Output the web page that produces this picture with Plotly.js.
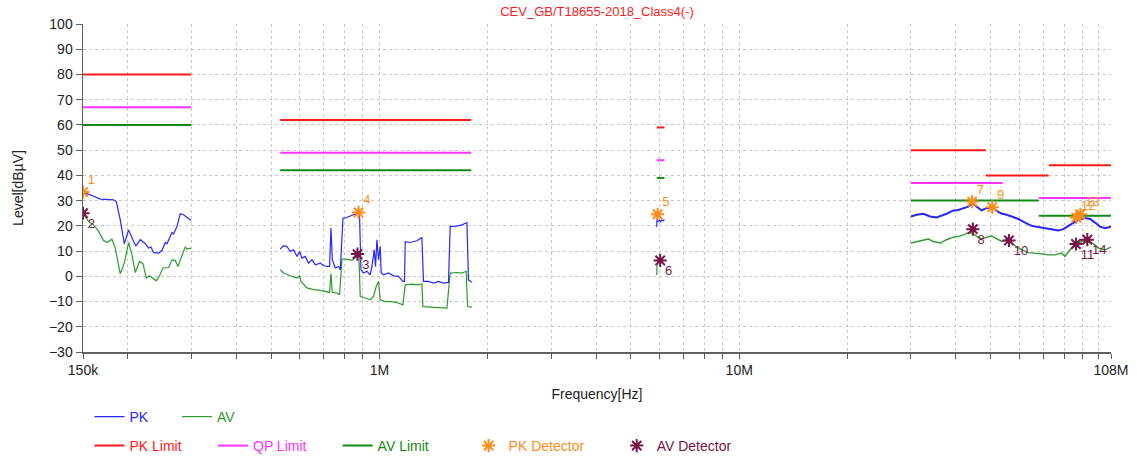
<!DOCTYPE html>
<html>
<head>
<meta charset="utf-8">
<script src="https://cdn.plot.ly/plotly-3.0.1.min.js"></script>
<style>
html,body{margin:0;padding:0;background:#fff;}
#chart{width:1137px;height:457px;}
</style>
</head>
<body>
<div id="chart"></div>
<script>
// ---- Data (frequency in MHz, level in dBµV) ----
const pkLwF = [0.15,0.1572,0.1676,0.1824,0.1856,0.1904,0.1954,0.2008,0.2073,0.2105,0.2164,0.2235,0.2282,0.2317,0.2357,0.2433,0.2486,0.254,0.2567,0.2651,0.2678,0.2737,0.2795,0.2855,0.2995];
const pkLwV = [33.2,32.3,30.6,30.3,29.6,22.4,12.9,18.4,13.8,12.1,14.5,12.9,11.2,11.6,9.4,9.2,10.2,13.4,12.9,17.4,16.8,19.7,24.8,24.4,22.1];
const avLwF = [0.15,0.1555,0.1605,0.1657,0.1711,0.1749,0.1805,0.1844,0.1904,0.1954,0.2008,0.2052,0.2096,0.2154,0.2202,0.2249,0.2297,0.2398,0.2448,0.2503,0.2594,0.2651,0.2708,0.2755,0.2796,0.2886,0.2918,0.2994];
const avLwV = [25.0,21.7,20.4,17.8,14.2,13.4,14.7,11.2,1.0,5.2,13.4,8.5,1.5,5.9,5.0,-0.7,0.2,-1.8,0.2,3.3,3.5,6.5,6.3,3.9,6.5,11.6,10.8,11.2];

const pkMwF = [0.530,0.5414,0.5534,0.5652,0.5772,0.5899,0.5998,0.6091,0.6220,0.6353,0.6492,0.6632,0.6848,0.6995,0.7149,0.7269,0.7334,0.7397,0.7539,0.7700,0.7784,0.7920,0.8035,0.8297,0.8567,0.8694,0.8806,0.8885,0.9034,0.9232,0.9428,0.9532,0.9674,0.9754,0.9841,0.9942,1.0051,1.0116,1.0266,1.0599,1.0944,1.1300,1.1623,1.1741,1.1795,1.2178,1.2710,1.3124,1.3258,1.3689,1.4134,1.4594,1.5068,1.5559,1.5728,1.6418,1.6953,1.7505,1.7686,1.8072];
const pkMwV = [10.8,12.1,11.8,9.8,10.5,7.9,9.8,7.2,7.9,5.2,6.6,4.6,5.2,4.3,3.9,3.9,19.1,6.6,3.3,3.9,2.6,23.1,23.1,23.8,24.4,25.0,23.8,2.6,1.3,2.0,0.6,3.9,10.5,3.9,14.5,6.6,11.8,1.3,0.6,1.3,0.2,0.0,-2.0,-2.0,13.7,13.4,14.1,15.4,-2.0,-2.0,-2.7,-2.0,-2.7,-2.4,19.7,19.9,20.4,21.3,-1.4,-2.4];
const avMwF = [0.530,0.5414,0.5652,0.5899,0.5998,0.6052,0.6289,0.6561,0.6848,0.7149,0.7269,0.7334,0.7397,0.7621,0.7748,0.7867,0.8124,0.8387,0.8619,0.8770,0.8845,0.9131,0.9428,0.9629,0.9797,0.9942,1.0051,1.0378,1.0832,1.1183,1.1623,1.1795,1.2310,1.2710,1.3124,1.3207,1.3841,1.4446,1.5403,1.5728,1.6418,1.6953,1.7426,1.7579,1.8072];
const avMwV = [2.6,1.3,0.2,-0.7,0.2,-2.0,-4.6,-5.3,-5.6,-6.0,-6.4,1.0,-6.4,-6.6,-7.3,6.8,6.8,6.3,7.6,7.9,-8.0,-8.6,-9.3,-8.0,-4.0,-2.0,-9.3,-10.0,-10.0,-10.4,-11.3,-3.4,-3.1,-3.4,-3.0,-12.0,-12.2,-12.4,-12.6,1.3,1.5,1.3,2.0,-12.0,-12.2];

const pkSwF = [5.90,5.91,5.95,6.00,6.05,6.10,6.15,6.20];
const pkSwV = [19.5,23.0,21.8,22.3,21.6,22.4,22.0,22.4];
const avSwF = [5.90,5.91,5.96,6.02];
const avSwV = [0.5,5.0,5.5,5.8];

const pkHbF = [30,31.15,32.5,33.9,35.4,36.6,37.7,39.4,40.7,42.0,43.3,44.5,45.7,47.2,48.7,50.5,52.2,53.7,54.8,57.2,59.7,62.3,65.0,67.8,70.8,73.9,77.1,79.6,82.2,84.8,87.6,91.4,94.4,97.5,100.6,103.9,108];
const pkHbV = [23.7,24.4,24.8,23.7,23.3,24.0,24.8,26.1,26.3,27.0,27.6,29.2,27.6,26.1,27.0,27.4,25.7,24.8,24.6,23.7,22.7,21.3,20.0,19.5,19.1,18.7,18.2,18.7,20.0,21.3,22.4,23.1,22.7,21.3,19.7,19.1,19.7];
const avHbF = [30,31.15,32.5,33.55,34.6,36.2,37.7,39.4,40.7,42.0,43.3,44.6,45.7,47.2,48.7,50.3,52.0,53.7,55.4,56.2,58.4,61.0,63.6,66.4,69.3,72.3,75.5,78.8,80.4,83.1,86.3,89.5,92.8,95.8,99.6,103.9,108];
const avHbV = [13.2,13.8,14.5,14.8,13.8,13.2,14.5,15.5,15.8,16.4,17.3,17.1,15.8,14.8,15.5,16.0,14.8,13.8,14.5,14.2,12.1,10.5,9.4,9.2,8.9,8.5,8.5,9.2,7.9,10.5,12.8,13.8,14.5,13.2,11.2,10.5,11.6];

// limit segments: [start MHz, stop MHz, level]
const pkLimit = [[0.15,0.3,80],[0.53,1.8,62],[5.9,6.2,59],[30,48.5,50],[48.5,72.5,40],[72.5,108,44]];
const qpLimit = [[0.15,0.3,67],[0.53,1.8,49],[5.9,6.2,46],[30,54,37],[68,108,31]];
const avLimit = [[0.15,0.3,60],[0.53,1.8,42],[5.9,6.2,39],[30,68,30],[68,108,24]];

const pkDetF = [0.15,0.875,5.93,44.4,50.5,86.5,88.8];
const pkDetV = [33.4,25.3,24.6,29.6,27.4,23.3,24.6];
const pkDetLbl = ['1','4','5','7','9','12','13'];
const avDetF = [0.15,0.869,6.03,44.6,56.2,86.3,92.8];
const avDetV = [25.0,8.8,6.3,18.7,14.2,12.8,14.5];
const avDetLbl = ['2','3','6','8','10','11','14'];

const xTickVals = [0.15,0.2,0.3,0.4,0.5,0.6,0.7,0.8,0.9,1,2,3,4,5,6,7,8,9,10,20,30,40,50,60,70,80,90,100,108];
const xTickText = ['150k','','','','','','','','','1M','','','','','','','','','10M','','','','','','','','','','108M'];

// ---- helpers ----
function joinSegs(fs, vs) {
  const x = [], y = [];
  fs.forEach((f, i) => { if (i) { x.push(null); y.push(null); } x.push(...f); y.push(...vs[i]); });
  return {x, y};
}
function limitXY(segs) {
  const x = [], y = [];
  segs.forEach((s, i) => { if (i) { x.push(null); y.push(null); } x.push(s[0], s[1]); y.push(s[2], s[2]); });
  return {x, y};
}

const C = {pk:'#2626ff', av:'#2e992e', pkl:'#ff1a1a', qpl:'#ff33ff', avl:'#138a13', pkd:'#ff8c1a', avd:'#7a1446'};
const FONT = 'Arial, "Liberation Sans", sans-serif';

const pkMain = joinSegs([pkLwF, pkMwF, pkSwF], [pkLwV, pkMwV, pkSwV]);
const avMain = joinSegs([avLwF, avMwF, avSwF], [avLwV, avMwV, avSwV]);
const pkl = limitXY(pkLimit), qpl = limitXY(qpLimit), avl = limitXY(avLimit);

const traces = [
  {x: pkl.x, y: pkl.y, mode:'lines', name:'PK Limit', line:{color:C.pkl, width:2}, legend:'legend3'},
  {x: qpl.x, y: qpl.y, mode:'lines', name:'QP Limit', line:{color:C.qpl, width:2}, legend:'legend4'},
  {x: avl.x, y: avl.y, mode:'lines', name:'AV Limit', line:{color:C.avl, width:2}, legend:'legend5'},
  {x: avMain.x, y: avMain.y, mode:'lines', name:'AV', line:{color:C.av, width:1.2}, legend:'legend2', legendgroup:'av'},
  {x: avHbF, y: avHbV, mode:'lines', name:'AV', line:{color:C.av, width:1.4}, showlegend:false, legendgroup:'av'},
  {x: pkMain.x, y: pkMain.y, mode:'lines', name:'PK', line:{color:C.pk, width:1.2}, legend:'legend', legendgroup:'pk'},
  {x: pkHbF, y: pkHbV, mode:'lines', name:'PK', line:{color:C.pk, width:2}, showlegend:false, legendgroup:'pk'},
  {x: pkDetF, y: pkDetV, mode:'markers', name:'PK Detector', marker:{symbol:'asterisk-open', size:11, color:C.pkd, line:{color:C.pkd, width:2}}, legend:'legend6', legendgroup:'pkd'},
  {x: pkDetF, y: pkDetV, mode:'markers+text', name:'PK Detector', text: pkDetLbl, textposition:'top right',
   textfont:{color:C.pkd, size:13, family:FONT}, marker:{symbol:'circle', size:6, color:C.pkd}, showlegend:false, legendgroup:'pkd'},
  {x: avDetF, y: avDetV, mode:'markers', name:'AV Detector', marker:{symbol:'asterisk-open', size:11, color:C.avd, line:{color:C.avd, width:2}}, legend:'legend7', legendgroup:'avd'},
  {x: avDetF, y: avDetV, mode:'markers+text', name:'AV Detector', text: avDetLbl, textposition:'bottom right',
   textfont:{color:C.avd, size:13, family:FONT}, marker:{symbol:'circle', size:6, color:C.avd}, showlegend:false, legendgroup:'avd'}
];

const W = 1028, H = 328, L = 83, B = 352;
function leg(px, py, color) {
  return {x:(px - L)/W, y:(B - py)/H, xanchor:'left', yanchor:'middle', orientation:'h',
          bgcolor:'rgba(0,0,0,0)', borderwidth:0, font:{family:FONT, size:14, color:color}};
}

const layout = {
  width:1137, height:457,
  margin:{l:83, r:26, t:24, b:105, autoexpand:false},
  paper_bgcolor:'#fff', plot_bgcolor:'#fff',
  font:{family:FONT, size:14, color:'#222'},
  title:{text:'CEV_GB/T18655-2018_Class4(-)', font:{family:FONT, size:13, color:'#ff1a1a'},
         x:0.5, xref:'paper', xanchor:'center', y:0.974, yref:'container', yanchor:'middle'},
  xaxis:{type:'log', range:[Math.log10(0.15), Math.log10(108)], tickmode:'array', tickvals:xTickVals, ticktext:xTickText,
         showgrid:true, gridcolor:'#c8c8c8', griddash:'dot', gridwidth:1, zeroline:false,
         showline:true, linecolor:'#606060', linewidth:1.5, ticks:'outside', ticklen:5, tickcolor:'#606060',
         tickfont:{family:FONT, size:14, color:'#222'},
         title:{text:'Frequency[Hz]', font:{family:FONT, size:14, color:'#222'}, standoff:12}},
  yaxis:{range:[-30,100], tick0:0, dtick:10, showgrid:true, gridcolor:'#c8c8c8', griddash:'dot', gridwidth:1, zeroline:false,
         showline:true, linecolor:'#606060', linewidth:1.5, ticks:'outside', ticklen:6, tickcolor:'#606060',
         tickfont:{family:FONT, size:14, color:'#222'},
         title:{text:'Level[dBµV]', font:{family:FONT, size:14, color:'#222'}, standoff:22}},
  showlegend:true,
  legend: leg(89.5, 417, C.pk),
  legend2: leg(177, 417, C.av),
  legend3: leg(89.5, 446, C.pkl),
  legend4: leg(213, 446, C.qpl),
  legend5: leg(337.6, 446, C.avl),
  legend6: leg(468.6, 446, C.pkd),
  legend7: leg(616.7, 446, C.avd)
};

Plotly.newPlot('chart', traces, layout, {displayModeBar:false, staticPlot:true});
</script>
</body>
</html>
